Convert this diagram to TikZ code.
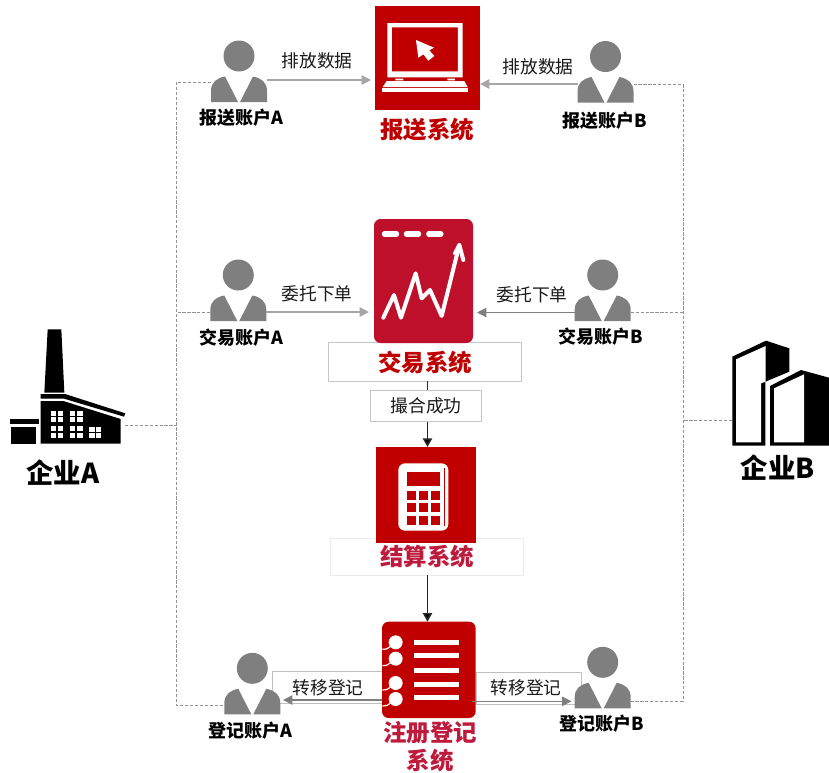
\documentclass[tikz,border=0pt]{standalone}
\usepackage{fontspec}
\setmainfont{Noto Sans CJK SC}
\usetikzlibrary{arrows.meta,calc}
\definecolor{redA}{HTML}{C00000}
\definecolor{redB}{HTML}{BE0F2B}
\definecolor{redT}{HTML}{BE1A3C}
\definecolor{pgray}{HTML}{7F7F7F}
\definecolor{agray}{HTML}{A6A6A6}
\tikzset{
  base/.style={inner sep=0pt,outer sep=0pt},
  lab/.style={base,font=\fontsize{13.3}{15}\selectfont,text=black!90},
  acct/.style={base,font=\fontsize{13.5}{15}\bfseries\selectfont,text=black},
  title/.style={base,font=\fontsize{17.6}{21}\bfseries\selectfont},
  corp/.style={base,font=\fontsize{20.6}{25}\bfseries\selectfont,text=black},
  icona/.style={base,fill=redA},
  personbox/.style={base,minimum width=42pt,minimum height=33pt},
  thinbox/.style={base,draw=black!22,line width=0.7pt,fill=white},
  busline/.style={draw=pgray!85,line width=0.7pt,dash pattern=on 2.4pt off 1.3pt},
  arrA/.style={draw=agray,line width=1.1pt,-{Triangle[length=7pt,width=7pt,fill=agray]}},
  arrB/.style={draw=pgray,line width=0.9pt,-{Triangle[length=7pt,width=7pt,fill=pgray]}},
  arrK/.style={draw=black!85,line width=1.2pt,-{Triangle[length=6.5pt,width=7pt,fill=black]}},
  zoomed/.style={scale=1/3},
  whitef/.style={fill=white,draw=none},
}
% name, cx, bottom
\newcommand{\persondraw}[3]{%
  \node[personbox] (#1) at (#2,#3-22) {};
  \begin{scope}[shift={(#2,#3)}]
    \fill[pgray] (0,-46) circle[radius=15.5];
    \fill[pgray] (-28,0) -- (-28,-11) .. controls (-28,-20) and (-22,-24) .. (-14,-25.5) -- (-1,0) -- cycle;
    \fill[pgray] (28,0) -- (28,-11) .. controls (28,-20) and (22,-24) .. (14,-25.5) -- (1,0) -- cycle;
  \end{scope}}
\begin{document}
\begin{tikzpicture}[x=0.75pt,y=-0.75pt]
\useasboundingbox (0,0) rectangle (829,772);

% named points on the trunk lines
\coordinate (busLtop) at (176.5,82);
\coordinate (busLbot) at (176.5,705);
\coordinate (busRtop) at (683,84.5);
\coordinate (busRbot) at (683,701);
\coordinate (busLmid) at (176.5,312);
\coordinate (busRmid) at (683,312);
\coordinate (busLcorp) at (176.5,425);
\coordinate (busRcorp) at (683,420);
\coordinate (repIL) at (371,80);
\coordinate (repIR) at (480,84);
\coordinate (trdIL) at (369,312);
\coordinate (trdIR) at (477,312.5);
\coordinate (trunk) at (427.5,0);

% thin boxes behind the icons
\node[thinbox,minimum width=193*0.75pt,minimum height=38.5*0.75pt] (tradebox) at (425,361.75) {};
\node[base,draw=black!8,line width=0.6pt,minimum width=193*0.75pt,minimum height=37*0.75pt] (settlebox) at (426.5,556.5) {};
\node[base,draw=black!25,line width=0.7pt,minimum width=109.3*0.75pt,minimum height=32.4*0.75pt] (xferL) at (327.35,687.5) {};
\node[base,draw=black!25,line width=0.7pt,minimum width=105.3*0.75pt,minimum height=31.7*0.75pt] (xferR) at (528.65,688.15) {};

% persons
\persondraw{ra}{239}{102}
\persondraw{rb}{605.5}{102.5}
\persondraw{ta}{238.3}{321}
\persondraw{tb}{602.7}{321}
\persondraw{ga}{252.3}{714.3}
\persondraw{gb}{602.7}{708.3}

% report system icon
\node[icona,minimum width=105*0.75pt,minimum height=103.5*0.75pt] (rep) at (427.5,57.75) {};
\begin{scope}[shift={(170,0)},zoomed]
  \fill[white,even odd rule] (652,69) rectangle (878,232) (666,82) rectangle (864,214);
  \fill[white] (676,236) rectangle (700,241) (832,236) rectangle (855,241);
  \fill[white] (650,243) -- (883,243) -- (893,261) -- (638,261) -- cycle;
  \fill[white] (636,265) rectangle (895,275);
  \fill[white] (738,120) -- (792,143) -- (778,151) -- (793,168) -- (775,182) -- (760,163) -- (745,173) -- cycle;
\end{scope}

% trade system icon
\node[base,fill=redB,rounded corners=5pt,minimum width=99*0.75pt,minimum height=124*0.75pt] (trade) at (423.5,281) {};
\begin{scope}[shift={(170,210)},zoomed]
  \draw[white,line width=3pt,line cap=round,line join=round] (640,323) -- (672,255) -- (693,323) -- (737,190) -- (755,265) -- (780,240) -- (815,318) -- (868,105);
  \draw[white,line width=3pt,line cap=round,line join=round] (855,130) -- (868,105) -- (880,150);
  \draw[white,line width=3.8pt,line cap=round] (643,72) -- (680,72) (709,72) -- (746,72) (776,72) -- (813,72);
\end{scope}

% settlement system icon
\node[icona,minimum width=99.7*0.75pt,minimum height=95.7*0.75pt] (settle) at (425.85,494.85) {};
\begin{scope}[shift={(170,440)},zoomed]
  \fill[white,rounded corners=5pt] (685,70) rectangle (835,272);
  \fill[redA] (710,95) rectangle (810,137);
  \fill[redA] (822,85) rectangle (826,258);
  \foreach \xa in {710,747,783}{\foreach \ya in {152,190,228}{
    \fill[redA] (\xa,\ya) rectangle ++(27,27);}}
\end{scope}

% registry icon
\node[icona,rounded corners=5pt,minimum width=93.7*0.75pt,minimum height=96.3*0.75pt] (reg) at (428.85,669.85) {};
\begin{scope}[shift={(170,440)},zoomed]
  \foreach \ya in {606,646,691,732,772}{\fill[white] (731,\ya-7.5) rectangle (866,\ya+7.5);}
  \foreach \ya in {607,656,729,777}{
    \fill[white] (677,\ya) circle[radius=21];
    \draw[white,line width=0.9pt] (637,\ya+21) .. controls (650,\ya+21) and (655,\ya+18) .. (662,\ya+12);}
\end{scope}

% match box
\node[thinbox,minimum width=111*0.75pt,minimum height=31.5*0.75pt] (match) at (426,405.75) {};

% factory (enterprise A)
\node[base,minimum width=115*0.75pt,minimum height=115*0.75pt] (corpA) at (67.5,386.5) {};
\begin{scope}[shift={(0,320)},zoomed]
  \fill[black] (143,28) -- (184,28) -- (193,218) -- (133,218) -- cycle;
  \fill[black] (122,222) -- (195,222) -- (376,280) -- (372,290) -- (192,236) -- (122,236) -- cycle;
  \fill[black] (122,243) -- (190,243) -- (362,297) -- (362,371) -- (122,371) -- cycle;
  \fill[black] (29,298) rectangle (116,313);
  \fill[black] (32,320) rectangle (108,371);
  \foreach \xa/\ya in {153/272,174/272,153/292,174/292,210/272,232/272,210/292,232/292,
      153/318,174/318,153/338,174/338,210/318,232/318,210/338,232/338,
      268/320,288/320,268/338,288/338}{
    \fill[white] (\xa,\ya) rectangle ++(16,15);}
\end{scope}

% buildings (enterprise B)
\node[base,minimum width=97*0.75pt,minimum height=105*0.75pt] (corpB) at (780.5,393.5) {};
\begin{scope}[shift={(680,330)},zoomed]
  \fill[black] (157,80) -- (258,32) -- (328,55) -- (328,125) -- (256,155) -- (256,347) -- (157,347) -- cycle;
  \fill[white] (168,88) -- (257,48) -- (257,155) -- (243,160) -- (243,337) -- (168,337) -- cycle;
  \fill[black] (270,168) -- (363,120) -- (447,143) -- (447,347) -- (270,347) -- cycle;
  \fill[white] (282,175) -- (372,133) -- (372,337) -- (282,337) -- cycle;
\end{scope}

% dashed trunk lines and branches
\draw[busline] (ra.west |- busLtop) -- (busLtop) -- (busLbot) -- (ga.west |- busLbot);
\draw[busline] (rb.east |- busRtop) -- (busRtop) -- (busRbot) -- (gb.east |- busRbot);
\draw[busline] (ta.west |- busLmid) -- (busLmid);
\draw[busline] (tb.east |- busRmid) -- (busRmid);
\draw[busline] (corpA.east |- busLcorp) -- (busLcorp);
\draw[busline] (corpB.west |- busRcorp) -- (busRcorp);

% arrows
\draw[arrA] (ra.east |- repIL) -- (repIL);
\draw[arrA] (rb.west |- repIR) -- (repIR);
\draw[arrA] (ta.east |- trdIL) -- (trdIL);
\draw[arrB] (tb.west |- trdIR) -- (trdIR);
\draw[draw=black!85,line width=1.2pt] (tradebox.south -| trunk) -- (match.north -| trunk);
\draw[arrK] (match.south -| trunk) -- (settle.north -| trunk);
\draw[arrK] (settlebox.south -| trunk) -- (reg.north -| trunk);
\coordinate (xl) at (283,700);
\coordinate (xr) at (571.5,701.3);
\draw[arrB] (reg.west |- xl) -- (xl);
\draw[arrB] (reg.east |- xr) ++(-4,0) -- (xr);

% labels
\node[lab] (l1) at (317,61) {排放数据};
\node[lab] (l2) at (538,67) {排放数据};
\node[lab] (l3) at (317,294) {委托下单};
\node[lab] (l4) at (532,295) {委托下单};
\node[lab] (l5) at (426,406) {撮合成功};
\node[lab] (l6) at (328,688) {转移登记};
\node[lab] (l7) at (526,688) {转移登记};
\node[acct] (a1) at (241,118) {报送账户A};
\node[acct] (a2) at (605,120.5) {报送账户B};
\node[acct] (a3) at (241,338) {交易账户A};
\node[acct] (a4) at (601,337) {交易账户B};
\node[acct] (a5) at (250,731) {登记账户A};
\node[acct] (a6) at (602,724) {登记账户B};
\node[title,text=redA] (t1) at (427,130) {报送系统};
\node[title,text=redA] (t2) at (425,362.5) {交易系统};
\node[title,text=redT] (t3) at (427,557) {结算系统};
\node[title,text=redT] (t4) at (430,733) {注册登记};
\node[title,text=redT] (t5) at (430,761) {系统};
\node[corp] (c1) at (63,473) {企业A};
\node[corp] (c2) at (778,468) {企业B};
\end{tikzpicture}
\end{document}
